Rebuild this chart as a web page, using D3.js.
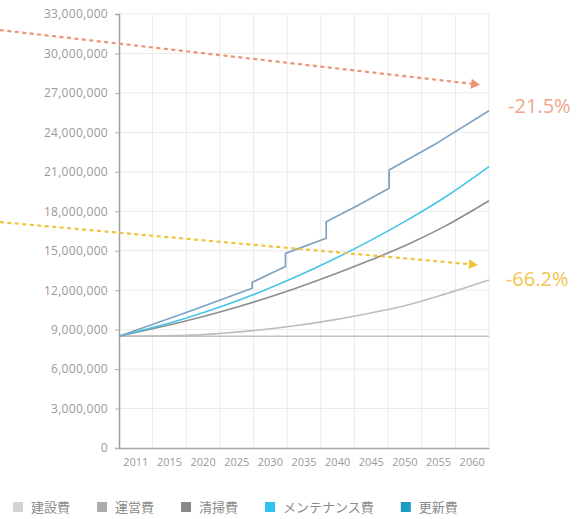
<!DOCTYPE html>
<html>
<head>
<meta charset="utf-8">
<script src="https://cdn.jsdelivr.net/npm/d3@7/dist/d3.min.js"></script>
<style>
  html, body { margin: 0; padding: 0; background: #fff; }
  svg { display: block; }
  text { font-family: "Open Sans", "Noto Sans", sans-serif; }
</style>
</head>
<body>
<svg id="chart" width="581" height="519"></svg>
<script>
// ---------- data ----------
const xLabels = ["2011","2015","2020","2025","2030","2035","2040","2045","2050","2055","2060"];
const yTicks = [0, 3000000, 6000000, 9000000, 12000000, 15000000, 18000000, 21000000, 24000000, 27000000, 30000000, 33000000];

const seriesNames = ["建設費", "運営費", "清掃費", "メンテナンス費", "更新費"];
const legendColors = ["#d3d3d3", "#ababab", "#878787", "#2ec3ef", "#1b9cc6"];
const lineColors   = ["#c2c2c2", "#bdbdbd", "#8d8d8d", "#47c5e6", "#7ea2c2"];

const curveYears = [2011, 2020, 2025, 2030, 2035, 2040, 2045, 2050, 2055, 2061];
const constructionVals = [8.5, 8.5, 8.5, 8.5, 8.5, 8.5, 8.5, 8.5, 8.5, 8.5];          // 建設費 (百万)
const operationVals    = [8.5, 8.56, 8.72, 8.97, 9.31, 9.74, 10.27, 10.88, 11.7, 12.78];
const cleaningVals     = [8.5, 9.65, 10.40, 11.24, 12.17, 13.19, 14.29, 15.47, 16.85, 18.8];
const maintenanceVals  = [8.5, 9.86, 10.79, 11.85, 13.04, 14.35, 15.79, 17.35, 19.05, 21.4];

// 更新費 : stepped line (year, value in millions)
const renewalYears = [2011, 2020, 2029, 2029, 2033.5, 2033.5, 2039, 2039, 2043.25, 2047.5, 2047.5, 2054, 2061];
const renewalVals  = [8.5, 10.28, 12.15, 12.6, 13.8, 14.8, 15.95, 17.2, 18.43, 19.75, 21.14, 23.2, 25.65];

// trend annotations (year, value in millions)
const trendLabels = ["-21.5%", "-66.2%"];
const trendColors = ["#eb9479", "#f2c43c"];
const trendTextColors = ["#f0a58c", "#f2c650"];
const trendFrom = [[1994.9, 31.78], [1994.9, 17.18]];
const trendTo   = [[2059.8, 27.62], [2059.5, 13.92]];
const trendLabelOffset = [[28, 21], [28, 14]];

// ---------- layout ----------
const svg = d3.select("#chart");
const L = 119, R = 489, T = 14, B = 448;

const x = d3.scaleLinear().domain([2011, 2061]).range([L, R]);
const xBand = d3.scaleBand().domain(xLabels).range([L, R]).padding(0);
const y = d3.scaleLinear().domain([0, 33000000]).range([B, T]);

// grid
const grid = svg.append("g");
grid.selectAll("line.h").data(yTicks.filter(d => d > 0)).join("line")
  .attr("x1", L).attr("x2", R)
  .attr("y1", d => y(d)).attr("y2", d => y(d))
  .attr("stroke", "#ebebeb").attr("stroke-width", 1);
grid.selectAll("line.v").data(xLabels).join("line")
  .attr("x1", d => xBand(d) + xBand.bandwidth()).attr("x2", d => xBand(d) + xBand.bandwidth())
  .attr("y1", T).attr("y2", B)
  .attr("stroke", "#ebebeb").attr("stroke-width", 1);

// y axis
const yAxis = svg.append("g").attr("transform", `translate(${L},0)`)
  .call(d3.axisLeft(y).tickValues(yTicks).tickFormat(d3.format(",")).tickSize(4).tickPadding(7));
yAxis.select(".domain").attr("stroke", "#a0a0a0").attr("stroke-width", 1.5);
yAxis.selectAll(".tick line").attr("stroke", "#b0b0b0");
yAxis.selectAll(".tick text").attr("fill", "#9a9a9a").style("font-size", "12px")
  .style("font-family", "'Open Sans', sans-serif").style("letter-spacing", "0.3px");

// x axis
const xAxis = svg.append("g").attr("transform", `translate(0,${B})`)
  .call(d3.axisBottom(xBand).tickSize(0).tickPadding(10));
xAxis.select(".domain").attr("stroke", "#a8a8a8").attr("stroke-width", 1.5);
xAxis.selectAll(".tick text").attr("fill", "#9a9a9a").style("font-size", "11px")
  .style("font-family", "'Open Sans', sans-serif");

// lines
const line = d3.line().x(d => x(d[0])).y(d => y(d[1] * 1e6)).curve(d3.curveMonotoneX);
const curveSets = [constructionVals, operationVals, cleaningVals, maintenanceVals];
curveSets.forEach((vals, i) => {
  svg.append("path")
    .datum(curveYears.map((yr, j) => [yr, vals[j]]))
    .attr("d", line)
    .attr("fill", "none")
    .attr("stroke", lineColors[i])
    .attr("stroke-width", 1.6);
});
const stepLine = d3.line().x(d => x(d[0])).y(d => y(d[1] * 1e6));
svg.append("path")
  .datum(renewalYears.map((yr, j) => [yr, renewalVals[j]]))
  .attr("d", stepLine)
  .attr("fill", "none")
  .attr("stroke", lineColors[4])
  .attr("stroke-width", 1.7)
  .attr("stroke-linejoin", "round");

// trend arrows
trendLabels.forEach((lab, i) => {
  const x0 = x(trendFrom[i][0]), y0 = y(trendFrom[i][1] * 1e6);
  const x1 = x(trendTo[i][0]), y1 = y(trendTo[i][1] * 1e6);
  const ang = Math.atan2(y1 - y0, x1 - x0);
  const head = 9;
  const bx = x1 - head * Math.cos(ang), by = y1 - head * Math.sin(ang);
  svg.append("line")
    .attr("x1", x0).attr("y1", y0).attr("x2", bx).attr("y2", by)
    .attr("stroke", trendColors[i]).attr("stroke-width", 2.2)
    .attr("stroke-dasharray", "4,3.5");
  const w = 5;
  const px = -Math.sin(ang) * w, py = Math.cos(ang) * w;
  svg.append("path")
    .attr("d", `M${x1},${y1}L${bx + px},${by + py}L${bx - px},${by - py}Z`)
    .attr("fill", trendColors[i]);
  svg.append("text")
    .attr("x", x1 + trendLabelOffset[i][0]).attr("y", y1 + trendLabelOffset[i][1])
    .attr("dy", "0.35em")
    .attr("fill", trendTextColors[i])
    .style("font-size", "20px")
    .style("font-family", "'Open Sans', sans-serif")
    .text(lab);
});

// legend
const legend = svg.append("g").attr("transform", "translate(13,507)");
let lx = 0;
seriesNames.forEach((name, i) => {
  const g = legend.append("g").attr("transform", `translate(${lx},0)`);
  g.append("rect").attr("x", 0).attr("y", -5).attr("width", 10).attr("height", 10)
    .attr("fill", legendColors[i]);
  const t = g.append("text").attr("x", 18).attr("y", 0).attr("dy", "0.36em")
    .attr("fill", "#8a8a8a").style("font-size", "13px")
    .style("font-family", "'Noto Sans CJK JP', sans-serif")
    .text(name);
  lx += 18 + t.node().getComputedTextLength() + 27;
});
</script>
</body>
</html>
